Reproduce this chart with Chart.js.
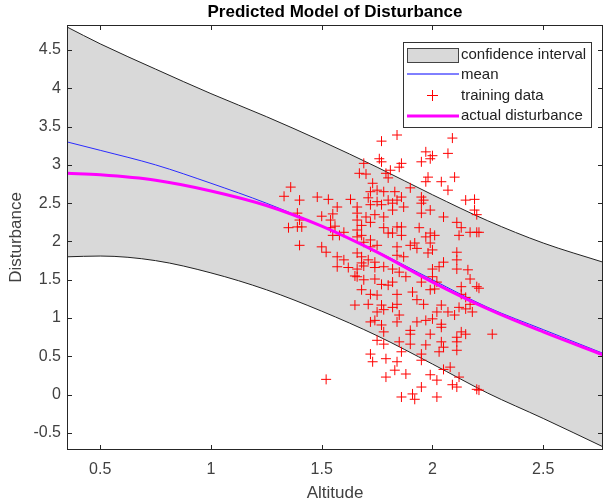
<!DOCTYPE html>
<html><head><meta charset="utf-8">
<script src="https://cdn.jsdelivr.net/npm/chart.js@4.4.1/dist/chart.umd.min.js"></script>
<style>html,body{margin:0;padding:0;background:#fff}</style>
</head><body>
<canvas id="c" width="605" height="504" style="width:605px;height:504px;display:block"></canvas>
<script>
// ---- data ----
const xTicks = [0.5, 1, 1.5, 2, 2.5];
const yTicks = [-0.5, 0, 0.5, 1, 1.5, 2, 2.5, 3, 3.5, 4, 4.5];

const curveX  = [0.35, 0.5, 0.75, 1.0, 1.25, 1.5, 1.75, 2.0, 2.25, 2.5, 2.77];
const upperY  = [4.80, 4.58, 4.25, 3.93, 3.63, 3.31, 2.97, 2.61, 2.27, 1.98, 1.73];
const lowerY  = [1.80, 1.81, 1.75, 1.59, 1.37, 1.09, 0.77, 0.40, 0.02, -0.31, -0.68];
const meanY   = [3.30, 3.19, 3.00, 2.76, 2.50, 2.20, 1.87, 1.50, 1.14, 0.85, 0.54];
const actualY = [2.89, 2.87, 2.80, 2.66, 2.47, 2.20, 1.86, 1.47, 1.12, 0.82, 0.52];

const trainX = [
1.77,1.76,1.77,1.69,1.67,1.70,1.79,1.80,1.73,1.72,1.75,1.78,1.36,1.33,1.40,1.48,1.53,1.63,1.66,1.71,
1.72,1.75,1.77,1.80,1.57,1.55,1.66,1.70,1.74,1.78,1.66,1.68,1.72,1.39,1.40,1.39,1.35,1.41,1.50,1.54,
1.54,1.56,1.58,1.55,1.60,1.66,1.68,1.66,1.69,1.72,1.75,1.72,1.78,1.80,1.40,1.50,1.52,1.57,1.60,1.66,
1.68,1.71,1.68,1.74,
1.84,2.09,2.07,1.97,2.00,1.95,1.99,1.86,1.85,1.81,1.98,1.97,2.04,2.10,2.07,1.90,1.83,1.84,1.86,1.87,
1.82,1.82,1.95,1.95,1.96,2.15,2.19,2.19,2.20,1.95,1.99,2.05,1.86,1.84,1.82,1.86,1.94,1.99,2.01,1.97,
2.11,2.13,2.12,2.17,2.20,1.92,1.90,1.93,1.99,2.00,1.98,1.84,1.84,1.87,2.11,2.11,2.05,
1.57,1.62,1.66,1.69,1.74,1.78,1.66,1.65,1.69,1.74,1.77,1.80,1.68,1.72,1.75,1.65,1.71,1.77,1.78,1.75,
1.74,1.72,1.77,1.78,1.75,1.78,1.72,1.73,1.79,1.79,1.52,
1.82,1.85,1.88,1.82,1.84,1.84,1.82,2.00,2.03,2.00,2.02,2.01,1.95,1.99,2.11,2.16,2.17,2.13,2.20,2.13,
2.15,2.17,2.12,2.15,2.18,1.91,1.93,1.96,2.04,2.02,2.07,2.10,1.85,1.84,1.93,1.97,2.00,2.04,1.90,1.90,
1.99,2.04,2.13,2.15,2.11,2.27,1.85,1.90,1.97,2.04,2.05,2.11,2.11,1.86,1.95,2.03,1.84,1.95,2.05,2.08,
1.83,1.88,1.99,2.02,2.12,2.09,2.11,2.20,1.86,1.91,1.95,2.02,1.92,
2.21,2.21,2.21
];
const trainY = [
3.31,3.08,3.04,3.02,2.89,2.88,2.89,2.83,2.76,2.65,2.67,2.65,2.71,2.59,2.54,2.58,2.55,2.55,2.45,2.57,
2.48,2.52,2.48,2.54,2.45,2.36,2.37,2.32,2.35,2.32,2.28,2.21,2.25,2.37,2.28,2.19,2.18,2.19,2.33,2.28,
2.18,2.20,2.08,2.08,2.12,2.15,2.08,2.06,1.99,2.02,1.95,1.93,2.18,2.11,1.95,1.93,1.86,1.80,1.76,1.85,
1.80,1.76,1.72,1.73,
3.39,3.35,3.15,3.17,3.12,3.04,3.08,3.02,2.97,2.93,2.84,2.78,2.78,2.84,2.67,2.70,2.65,2.54,2.58,2.45,
2.50,2.41,2.58,2.50,2.54,2.54,2.55,2.41,2.35,2.37,2.41,2.32,2.19,2.19,2.11,2.08,2.18,2.11,2.08,2.06,
2.25,2.18,2.08,2.12,2.12,1.98,1.95,1.91,1.98,1.89,1.85,1.93,1.82,1.80,1.86,1.76,1.73,
1.67,1.66,1.64,1.68,1.66,1.67,1.54,1.55,1.50,1.51,1.44,1.43,1.37,1.31,1.30,1.17,1.18,1.17,1.11,1.08,
0.97,0.95,0.91,0.82,0.71,0.66,0.53,0.43,0.47,0.23,0.20,
1.64,1.60,1.54,1.47,1.31,1.18,1.14,1.64,1.67,1.54,1.47,1.38,1.47,1.37,1.64,1.63,1.51,1.41,1.41,1.31,
1.27,1.18,1.14,1.12,1.08,1.34,1.24,1.18,1.17,1.08,1.08,1.04,1.04,0.95,0.95,0.97,0.99,0.92,0.84,0.79,
0.79,0.88,0.82,0.79,0.75,0.79,0.69,0.66,0.65,0.69,0.62,0.69,0.58,0.56,0.53,0.56,0.43,0.45,0.33,0.36,
0.32,0.27,0.26,0.19,0.23,0.13,0.10,0.07,-0.03,0.01,0.10,-0.03,-0.06,
2.12,1.39,0.06
];

const legendLabels = ['confidence interval', 'mean', 'training data', 'actual disturbance'];
const titleText = 'Predicted Model of Disturbance';
const xTitle = 'Altitude';
const yTitle = 'Disturbance';

// ---- build ----
const pts = (xs, ys) => xs.map((v, i) => ({x: v, y: ys[i]}));
const FONT = "'Liberation Sans', Arial, Helvetica, sans-serif";

const overlay = {
  id: 'overlay',
  afterDraw(chart) {
    const {ctx, chartArea: a, scales: {x, y}} = chart;
    ctx.save();
    // box + inner ticks
    ctx.strokeStyle = '#262626';
    ctx.lineWidth = 1;
    ctx.strokeRect(a.left + 0.5, a.top + 0.5, a.right - a.left - 1, a.bottom - a.top - 1);
    ctx.beginPath();
    xTicks.forEach(v => {
      const p = Math.round(x.getPixelForValue(v)) + 0.5;
      ctx.moveTo(p, a.bottom); ctx.lineTo(p, a.bottom - 5);
      ctx.moveTo(p, a.top); ctx.lineTo(p, a.top + 5);
    });
    yTicks.forEach(v => {
      const p = Math.round(y.getPixelForValue(v)) + 0.5;
      ctx.moveTo(a.left, p); ctx.lineTo(a.left + 5, p);
      ctx.moveTo(a.right, p); ctx.lineTo(a.right - 5, p);
    });
    ctx.stroke();

    // title
    ctx.fillStyle = '#000';
    ctx.font = 'bold 17px ' + FONT;
    ctx.textAlign = 'center';
    ctx.textBaseline = 'middle';
    ctx.fillText(titleText, (a.left + a.right) / 2, 12);

    // axis titles
    ctx.fillStyle = '#404040';
    ctx.font = '17px ' + FONT;
    ctx.fillText(xTitle, (a.left + a.right) / 2, 493);
    ctx.save();
    ctx.translate(16, (a.top + a.bottom) / 2);
    ctx.rotate(-Math.PI / 2);
    ctx.fillText(yTitle, 0, 0);
    ctx.restore();

    // legend
    const L = 403.5, T = 42.5, W = 188, H = 85;
    ctx.fillStyle = '#fff';
    ctx.fillRect(L, T, W, H);
    ctx.strokeStyle = '#333';
    ctx.lineWidth = 1;
    ctx.strokeRect(L, T, W, H);
    const rows = [55, 75, 96, 116];
    // patch
    ctx.fillStyle = '#d9d9d9';
    ctx.fillRect(407.5, 48.5, 51, 14);
    ctx.strokeStyle = '#444';
    ctx.strokeRect(407.5, 48.5, 51, 14);
    // mean line
    ctx.strokeStyle = '#0000ff';
    ctx.lineWidth = 1;
    ctx.beginPath(); ctx.moveTo(407, 74); ctx.lineTo(459, 74); ctx.stroke();
    // plus
    ctx.strokeStyle = '#ff0000';
    ctx.beginPath();
    ctx.moveTo(427, 95.5); ctx.lineTo(438, 95.5);
    ctx.moveTo(432.5, 90); ctx.lineTo(432.5, 101);
    ctx.stroke();
    // actual line
    ctx.strokeStyle = '#ff00ff';
    ctx.lineWidth = 3;
    ctx.beginPath(); ctx.moveTo(407, 116); ctx.lineTo(459, 116); ctx.stroke();
    // texts
    ctx.fillStyle = '#222';
    ctx.font = '15px ' + FONT;
    ctx.textAlign = 'left';
    ctx.textBaseline = 'middle';
    legendLabels.forEach((t, i) => ctx.fillText(t, 461, rows[i]));
    ctx.restore();
  }
};

const tickFont = {family: FONT, size: 16};

new Chart(document.getElementById('c'), {
  type: 'scatter',
  data: {
    datasets: [
      { // 0 upper (filled to lower)
        type: 'line', label: 'upper', data: pts(curveX, upperY),
        borderColor: '#222', borderWidth: 1, pointRadius: 0,
        backgroundColor: '#d9d9d9', fill: '+1',
        cubicInterpolationMode: 'monotone', order: 5
      },
      { // 1 lower
        type: 'line', label: 'lower', data: pts(curveX, lowerY),
        borderColor: '#222', borderWidth: 1, pointRadius: 0, fill: false,
        cubicInterpolationMode: 'monotone', order: 4
      },
      { // 2 mean
        type: 'line', label: 'mean', data: pts(curveX, meanY),
        borderColor: '#2b2bff', borderWidth: 1, pointRadius: 0, fill: false,
        cubicInterpolationMode: 'monotone', order: 3
      },
      { // 3 training data
        type: 'scatter', label: 'training data', data: pts(trainX, trainY),
        pointStyle: 'cross', pointRadius: 5, borderColor: '#ff0000',
        backgroundColor: '#ff0000', borderWidth: 1, order: 2
      },
      { // 4 actual
        type: 'line', label: 'actual disturbance', data: pts(curveX, actualY),
        borderColor: '#ff00ff', borderWidth: 3, pointRadius: 0, fill: false,
        cubicInterpolationMode: 'monotone', order: 1
      }
    ]
  },
  options: {
    responsive: false,
    animation: false,
    devicePixelRatio: 1,
    layout: {autoPadding: false, padding: {top: 25, right: 2, left: 0, bottom: 0}},
    plugins: {legend: {display: false}, title: {display: false}, tooltip: {enabled: false}},
    scales: {
      x: {
        type: 'linear', min: 0.35, max: 2.77,
        grid: {display: false, drawTicks: false}, border: {display: false},
        ticks: {padding: 10, color: '#404040', font: tickFont, autoSkip: false, maxRotation: 0,
                callback: v => String(v)},
        afterBuildTicks: s => { s.ticks = xTicks.map(v => ({value: v})); },
        afterFit: s => { s.height = 54; }
      },
      y: {
        type: 'linear', min: -0.722, max: 4.826,
        grid: {display: false, drawTicks: false}, border: {display: false},
        ticks: {padding: 6, color: '#404040', font: tickFont, autoSkip: false,
                callback: v => String(v)},
        afterBuildTicks: s => { s.ticks = yTicks.map(v => ({value: v})); },
        afterFit: s => { s.width = 67; }
      }
    }
  },
  plugins: [overlay]
});
</script>
</body></html>
